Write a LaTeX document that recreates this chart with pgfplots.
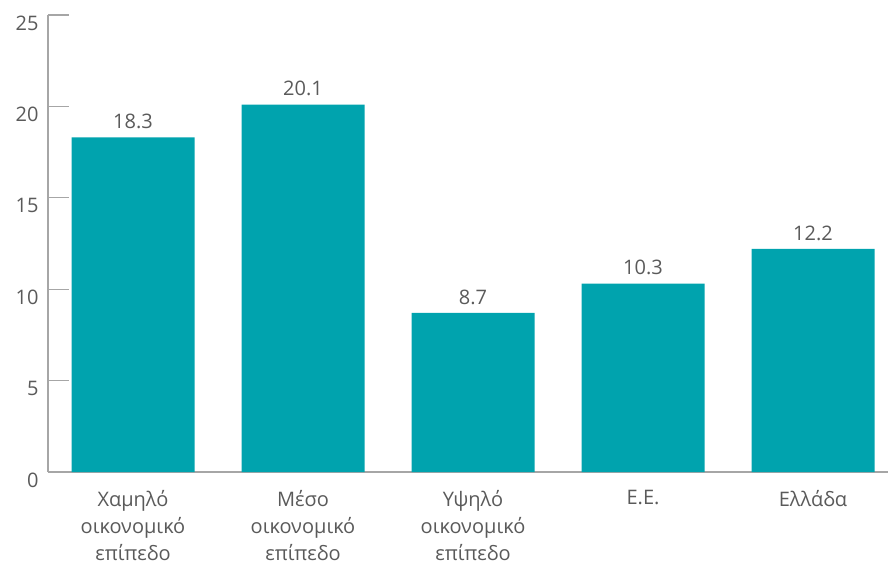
\documentclass[border=0pt]{standalone}
\usepackage{fontspec}
\setmainfont{Open Sans}
\usepackage{pgfplots}
\pgfplotsset{compat=1.18}
\definecolor{barc}{HTML}{00A3AE}
\definecolor{axisgray}{HTML}{A6A6A6}
\definecolor{txt}{HTML}{5A5A5A}
\begin{document}
\begin{tikzpicture}
\begin{axis}[
  scale only axis, width=840pt, height=457pt,
  xmin=-0.5, xmax=4.441, ymin=0, ymax=25,
  ytick={0,5,...,25},
  axis x line*=bottom, axis y line*=left,
  axis line style={axisgray, line width=1.2pt},
  tick align=inside,
  major tick length=21pt,
  minor tick length=11pt,
  ytick style={axisgray, line width=1.2pt},
  xtick={0,1,2,3,4},
  xtick style={draw=none},
  minor xtick={-0.5,0.5,1.5,2.5,3.5},
  minor x tick style={axisgray, line width=1.2pt},
  xticklabels={{Χαμηλό\\οικονομικό\\επίπεδο},{Μέσο\\οικονομικό\\επίπεδο},{Υψηλό\\οικονομικό\\επίπεδο},{Ε.Ε.},{Ελλάδα}},
  xticklabel style={align=center, font=\fontsize{20}{27}\selectfont, text=txt, yshift=6pt},
  yticklabel style={font=\fontsize{20}{24}\selectfont, text=txt, yshift=-8pt, xshift=-6pt},
  /pgf/number format/assume math mode=true,
  ybar, bar width=123pt,
  nodes near coords,
  nodes near coords style={font=\fontsize{20}{24}\selectfont, text=txt, yshift=5pt, /pgf/number format/.cd, fixed, precision=1, fixed zerofill, assume math mode=true},
]
\addplot[fill=barc, draw=none] coordinates {(0,18.3) (1,20.1) (2,8.7) (3,10.3) (4,12.2)};
\coordinate (o) at (rel axis cs:0,0);
\end{axis}
\pgfresetboundingbox
\path ([shift={(-48pt,-93pt)}]o) rectangle ++(888pt,565pt);
\end{tikzpicture}
\end{document}
